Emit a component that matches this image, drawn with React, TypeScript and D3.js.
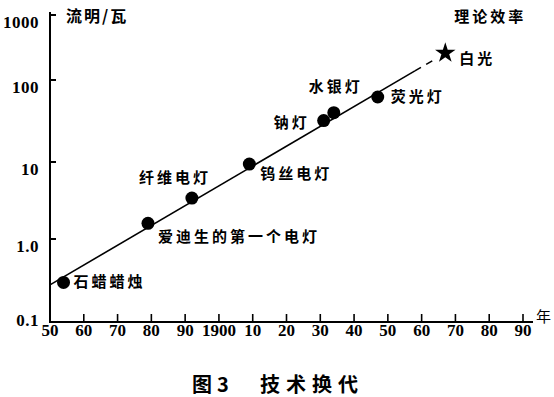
import React from 'react';
import * as d3 from 'd3';

// lamp data (lumens per watt)
const lampNames = ['石蜡蜡烛', '爱迪生的第一个电灯', '纤维电灯', '钨丝电灯', '钠灯', '水银灯', '荧光灯'];
const lampYears = [1854, 1879, 1892, 1909, 1931, 1934, 1947];
const lampEfficacy = [0.3, 1.6, 3.4, 9.4, 32, 40, 62];

const whiteLightName = '白光';
const whiteLightYear = 1967;
const whiteLightEfficacy = 260;
const theoryLabel = '理论效率';

// trend line: solid from start, dashed after dashFrom
const trendStartYear = 1850;
const trendStartValue = 0.28;
const trendDashFrom = 1958;

const yTicks = [0.1, 1, 10, 100, 1000];
const yTickLabels = ['0.1', '1.0', '10', '100', '1000'];
const xTicks = [1850, 1860, 1870, 1880, 1890, 1900, 1910, 1920, 1930, 1940, 1950, 1960, 1970, 1980, 1990];
const xTickLabels = ['50', '60', '70', '80', '90', '1900', '10', '20', '30', '40', '50', '60', '70', '80', '90'];

const W = 554;
const H = 397;

const cjk = '"Noto Sans CJK SC", "Noto Sans CJK JP", sans-serif';
const serifStyle = { fontFamily: '"Liberation Serif", "DejaVu Serif", serif' };

// label placement relative to each dot: [dx, dy, anchor]
const labelPos: [number, number, string][] = [
  [10, 1, 'start'],
  [10, 15, 'start'],
  [-17, -19, 'middle'],
  [11, 11, 'start'],
  [-14, 3, 'end'],
  [2, -25, 'middle'],
  [13, 1, 'start'],
];

const App = () => {
  const x = d3.scaleLinear().domain([1850, 1990]).range([50, 523]);
  // hand-drawn log axis: decades are not exactly evenly spaced
  const y = d3.scaleLog().domain([0.1, 1, 10, 100, 1000]).range([322, 239, 162, 80, 15]);

  const x0 = x(trendStartYear);
  const y0 = y(trendStartValue);
  const x1 = x(whiteLightYear);
  const y1 = y(whiteLightEfficacy);
  const xd = x(trendDashFrom);
  const yd = y0 + ((xd - x0) / (x1 - x0)) * (y1 - y0);
  const solid = d3.line()([[x0, y0], [xd, yd]]) || '';
  const dashed = d3.line()([[xd, yd], [x1 - 8, y1 + 5]]) || '';

  const star = d3.symbol().type(d3.symbolStar).size(130)() || '';

  const baseY = y(0.1);

  return (
    <svg width={W} height={H} style={{ position: 'absolute', left: 0, top: 0, background: '#fff' }}>
      {/* axes */}
      <line x1={50} x2={50} y1={12} y2={baseY} stroke="#000" strokeWidth={2} />
      <line x1={49} x2={533} y1={baseY} y2={baseY} stroke="#000" strokeWidth={2} />
      {yTicks.map((t, i) => (
        <g key={'y' + i}>
          {i > 0 && <line x1={50} x2={56} y1={y(t)} y2={y(t)} stroke="#000" strokeWidth={2} />}
          <text
            x={39}
            y={y(t) + (i === 0 ? 0 : 9)}
            textAnchor="end"
            dominantBaseline="middle"
            style={serifStyle}
            fontWeight="bold"
            fontSize={17}
            letterSpacing={0.5}
            fill="#000"
          >
            {yTickLabels[i]}
          </text>
        </g>
      ))}
      {xTicks.map((t, i) => (
        <g key={'x' + i}>
          {i > 0 && <line x1={x(t)} x2={x(t)} y1={baseY} y2={baseY - 8} stroke="#000" strokeWidth={1.6} />}
          <text
            x={x(t)}
            y={baseY + 10}
            textAnchor="middle"
            dominantBaseline="middle"
            style={serifStyle}
            fontWeight="bold"
            fontSize={17}
            fill="#000"
          >
            {xTickLabels[i]}
          </text>
        </g>
      ))}
      <text x={536} y={318} fontFamily={cjk} fontSize={15} dominantBaseline="middle" fill="#000">年</text>
      <text x={66} y={18} fontFamily={cjk} fontWeight="bold" fontSize={16} dominantBaseline="middle" fill="#000" letterSpacing={2}>
        流明/瓦
      </text>

      {/* trend */}
      <path d={solid} stroke="#000" strokeWidth={1.6} fill="none" />
      <path d={dashed} stroke="#000" strokeWidth={1.6} fill="none" strokeDasharray="7 6" />

      {/* lamps */}
      {lampNames.map((name, i) => {
        const cx = x(lampYears[i]);
        const cy = y(lampEfficacy[i]);
        const [dx, dy, anchor] = labelPos[i];
        return (
          <g key={name}>
            <circle cx={cx} cy={cy} r={6.5} fill="#000" />
            <text
              x={cx + dx}
              y={cy + dy}
              textAnchor={anchor as any}
              dominantBaseline="middle"
              fontFamily={cjk}
              fontWeight="bold"
              fontSize={15}
              letterSpacing={3}
              fill="#000"
            >
              {name}
            </text>
          </g>
        );
      })}

      {/* white light */}
      <path d={star} transform={`translate(${x1},${y1})`} fill="#000" />
      <text x={x1 + 14} y={y1 + 7} dominantBaseline="middle" fontFamily={cjk} fontWeight="bold" fontSize={15} letterSpacing={3} fill="#000">
        {whiteLightName}
      </text>
      <text x={x1 + 9} y={y1 - 35} dominantBaseline="middle" fontFamily={cjk} fontWeight="bold" fontSize={15} letterSpacing={3} fill="#000">
        {theoryLabel}
      </text>

      {/* caption */}
      <text x={192} y={387} dominantBaseline="middle" fontFamily={cjk} fontWeight="bold" fontSize={20} fill="#000">
        图
      </text>
      <text x={217} y={387} dominantBaseline="middle" fontFamily={cjk} fontWeight="bold" fontSize={20} fill="#000">
        3
      </text>
      <text x={260} y={387} dominantBaseline="middle" fontFamily={cjk} fontWeight="bold" fontSize={20} letterSpacing={6} fill="#000">
        技术换代
      </text>
    </svg>
  );
};

export default App;
